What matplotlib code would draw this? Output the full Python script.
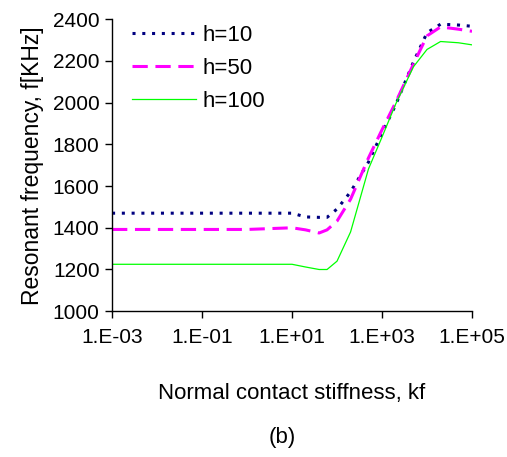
import math
import matplotlib
matplotlib.use("Agg")
import matplotlib.pyplot as plt
from matplotlib.ticker import FixedLocator, FuncFormatter

plt.rcParams['font.family'] = ['Liberation Sans', 'DejaVu Sans']

# normal contact stiffness values (log scale)
kf = [1e-3, 1e-2, 1e-1, 1, 10, 20, 40, 60, 100, 200, 500,
      1000, 2000, 5000, 1e4, 2e4, 5e4, 1e5]

# resonant frequency [KHz] for each h
f_h10 = [1470, 1470, 1470, 1470, 1470, 1452, 1450, 1450, 1490, 1572, 1715,
         1855, 1988, 2195, 2335, 2376, 2372, 2366]
f_h50 = [1392, 1392, 1392, 1392, 1400, 1390, 1375, 1390, 1432, 1537, 1735,
         1870, 2000, 2185, 2320, 2363, 2352, 2342]
f_h100 = [1225, 1225, 1225, 1225, 1225, 1212, 1200, 1200, 1240, 1380, 1682,
          1835, 1992, 2172, 2255, 2293, 2287, 2277]

xticks = [1e-3, 1e-1, 1e1, 1e3, 1e5]
yticks = [1000, 1200, 1400, 1600, 1800, 2000, 2200, 2400]

fig = plt.figure(figsize=(5.07, 4.57), dpi=100)
ax = fig.add_axes([0.221, 0.319, 0.710, 0.639])

ax.plot(kf, f_h10, color='#000080', lw=2.2, linestyle=(0, (1.0, 2.2)), label='h=10')
ax.plot(kf, f_h50, color='#ff00ff', lw=2.2, linestyle=(0, (5, 2.5)), label='h=50')
ax.plot(kf, f_h100, color='#00ff00', lw=0.9, label='h=100')

ax.set_xscale('log')
ax.set_xlim(1e-3, 1e5)
ax.set_ylim(1000, 2400)
ax.xaxis.set_major_locator(FixedLocator(xticks))
ax.xaxis.set_minor_locator(FixedLocator([]))
ax.xaxis.set_major_formatter(FuncFormatter(lambda v, p: '1.E%+03d' % round(math.log10(v))))
ax.set_yticks(yticks)

for s in ['top', 'right']:
    ax.spines[s].set_visible(False)
for s in ['left', 'bottom']:
    ax.spines[s].set_linewidth(1.0)
ax.tick_params(axis='both', direction='out', length=5, width=1, labelsize=15)
ax.tick_params(axis='x', pad=7)
ax.tick_params(axis='y', pad=4)

ax.set_ylabel('Resonant frequency, f[KHz]', fontsize=16.5, labelpad=6)
ax.set_xlabel('Normal contact stiffness, kf', fontsize=16, labelpad=26)
fig.text(0.556, 0.043, '(b)', ha='center', va='center', fontsize=16)

ax.legend(loc='upper left', bbox_to_anchor=(0.0, 1.05), frameon=False,
          fontsize=16, handlelength=2.9, handletextpad=0.25, labelspacing=0.55)

fig.savefig('out.png', dpi=100)
